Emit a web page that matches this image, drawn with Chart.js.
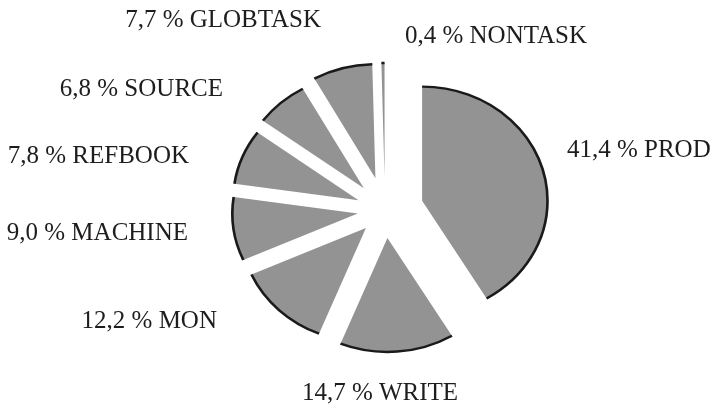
<!DOCTYPE html>
<html lang="en">
<head>
    <meta charset="UTF-8">
    <title>Task share pie</title>
    <script src="https://cdn.jsdelivr.net/npm/chart.js"></script>
    <style>
        html, body { margin: 0; padding: 0; background: #fff; }
    </style>
</head>
<body>

<canvas id="myChart" width="712" height="407"></canvas>

<script>
    // slice order, clockwise from 12 o'clock
    var categories = ['PROD', 'WRITE', 'MON', 'MACHINE', 'REFBOOK', 'SOURCE', 'GLOBTASK', 'NONTASK'];
    var shares = [41.4, 14.7, 12.2, 9.0, 7.8, 6.8, 7.7, 0.4];
    var tickLabels = ['41,4 %', '14,7 %', '12,2 %', '9,0 %', '7,8 %', '6,8 %', '7,7 %', '0,4 %'];

    // how far each slice is pulled out of the pie (px)
    var explode = [35, 28, 25, 25, 26, 29, 33, 33];
    // label spots, in pie radii from the centre, plus alignment
    var labelSpots = [
        [1.596, -0.465, 'left'],
        [-0.044, 1.667, 'center'],
        [-1.474, 1.035, 'right'],
        [-1.728, 0.263, 'right'],
        [-1.719, -0.412, 'right'],
        [-1.421, -1.0, 'right'],
        [-0.561, -1.605, 'right'],
        [0.175, -1.465, 'left']
    ];

    var RADIUS = 114;
    var STRETCH = 1.1; // pie is a bit wider than tall

    function pullOut(arc, i) {
        var h = (arc.startAngle + arc.endAngle) / 2;
        return { x: Math.cos(h) * explode[i], y: Math.sin(h) * explode[i] };
    }

    var piePlugin = {
        id: 'piePlugin',
        afterDatasetUpdate: function(chart, args) {
            // move every slice out along its middle angle
            args.meta.data.forEach(function(arc, i) {
                arc.draw = function(c, area) {
                    var p = pullOut(this, i);
                    c.save();
                    c.translate(p.x, p.y);
                    Chart.ArcElement.prototype.draw.call(this, c, area);
                    c.restore();
                };
            });
        },
        beforeDatasetsDraw: function(chart) {
            var ctx = chart.ctx;
            var a = chart.chartArea;
            var cx = (a.left + a.right) / 2;
            ctx.save();
            ctx.translate(cx, 0);
            ctx.scale(STRETCH, 1);
            ctx.translate(-cx, 0);
        },
        afterDatasetsDraw: function(chart) {
            var ctx = chart.ctx;
            var meta = chart.getDatasetMeta(0);
            ctx.strokeStyle = '#1a1a1a';
            ctx.lineWidth = 2.4;
            meta.data.forEach(function(arc, i) {
                var p = pullOut(arc, i);
                ctx.beginPath();
                ctx.arc(arc.x + p.x, arc.y + p.y, arc.outerRadius, arc.startAngle, arc.endAngle);
                ctx.stroke();
            });
            ctx.restore();
        },
        afterDraw: function(chart) {
            var ctx = chart.ctx;
            var arc0 = chart.getDatasetMeta(0).data[0];
            ctx.save();
            ctx.fillStyle = '#1f1c1d';
            ctx.font = '25px "Liberation Serif", "Times New Roman", serif';
            ctx.textBaseline = 'alphabetic';
            categories.forEach(function(name, i) {
                var spot = labelSpots[i];
                ctx.textAlign = spot[2];
                ctx.fillText(tickLabels[i] + ' ' + name, arc0.x + spot[0] * RADIUS, arc0.y + spot[1] * RADIUS);
            });
            ctx.restore();
        }
    };

    var ctx = document.getElementById('myChart').getContext('2d');
    var myChart = new Chart(ctx, {
        type: 'pie',
        data: {
            labels: categories,
            datasets: [{
                data: shares,
                backgroundColor: '#939393',
                borderWidth: 0
            }]
        },
        options: {
            responsive: false,
            animation: false,
            radius: RADIUS,
            layout: {
                padding: { left: 58, right: 0, top: 13, bottom: 0 }
            },
            plugins: {
                legend: { display: false },
                tooltip: { enabled: false }
            }
        },
        plugins: [piePlugin]
    });
</script>

</body>
</html>
